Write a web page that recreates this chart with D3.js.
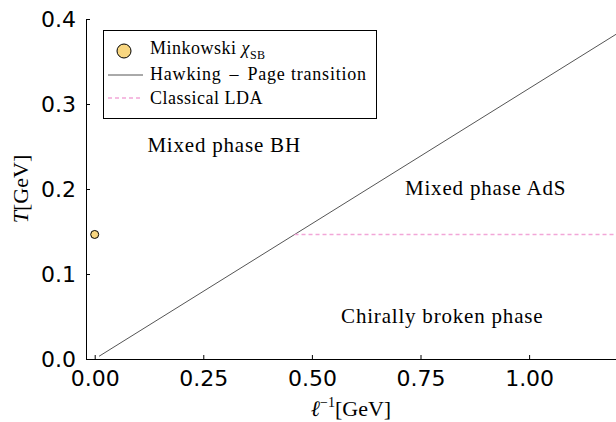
<!DOCTYPE html>
<html>
<head>
<meta charset="utf-8">
<script src="https://cdn.jsdelivr.net/npm/d3@7"></script>
<style>
  html, body { margin: 0; padding: 0; background: #fff; }
  svg { display: block; }
</style>
</head>
<body>
<svg id="chart" width="616" height="422"></svg>
<script>
// Phase diagram: temperature vs inverse size
const xTicks = [0.00, 0.25, 0.50, 0.75, 1.00];
const yTicks = [0.0, 0.1, 0.2, 0.3, 0.4];
const xDomain = [-0.02, 1.2];
const yDomain = [0, 0.4];

// Hawking–Page transition line T = ℓ^{-1}/π
const hpInv = [0.01, 1.2];
const hpT = [0.01 / Math.PI, 1.2 / Math.PI];

// Classical LDA transition temperature
const ldaInv = [0.46, 1.2];
const ldaT = [0.1465, 0.1465];

// Minkowski chiral symmetry breaking point
const minkInv = [0.0];
const minkT = [0.1465];

// Region labels
const regionNames = ["Mixed phase BH", "Mixed phase AdS", "Chirally broken phase"];
const regionInv = [0.298, 0.9, 0.8];
const regionT = [0.2435, 0.193, 0.0424];

const svg = d3.select("#chart");
const x = d3.scaleLinear().domain(xDomain).range([86, 616]);
const y = d3.scaleLinear().domain(yDomain).range([359, 19]);

const tickFont = "'DejaVu Sans', sans-serif";
const serif = "'Liberation Serif', 'DejaVu Serif', serif";

// Axes with inward ticks
const xAxis = d3.axisBottom(x).tickValues(xTicks).tickFormat(d3.format(".2f")).tickSizeInner(-4).tickSizeOuter(0).tickPadding(11);
const yAxis = d3.axisLeft(y).tickValues(yTicks).tickFormat(d3.format(".1f")).tickSizeInner(-4).tickSizeOuter(0).tickPadding(10);

const gx = svg.append("g").attr("transform", "translate(0,359)").call(xAxis);
const gy = svg.append("g").attr("transform", "translate(86,0)").call(yAxis);
[gx, gy].forEach(g => {
  g.select(".domain").attr("stroke", "#000").attr("stroke-width", 1);
  g.selectAll(".tick line").attr("stroke", "#000").attr("stroke-width", 1);
  g.selectAll(".tick text").attr("font-family", tickFont).attr("font-size", 22).attr("fill", "#000");
});
gx.selectAll(".tick text").attr("dy", "0.71em");
gy.selectAll(".tick text").attr("dy", "0.36em");

// Clip to the plotting area
svg.append("clipPath").attr("id", "plotclip")
  .append("rect").attr("x", 86).attr("y", 0).attr("width", 530).attr("height", 359);
const plot = svg.append("g").attr("clip-path", "url(#plotclip)");

const line = d3.line().x(d => x(d[0])).y(d => y(d[1]));

plot.append("path")
  .datum(hpInv.map((v, i) => [v, hpT[i]]))
  .attr("d", line).attr("fill", "none").attr("stroke", "#555").attr("stroke-width", 1);

plot.append("path")
  .datum(ldaInv.map((v, i) => [v, ldaT[i]]))
  .attr("d", line).attr("fill", "none").attr("stroke", "#f2a6d8")
  .attr("stroke-width", 1.3).attr("stroke-dasharray", "4,3");

plot.selectAll("circle.mink").data(minkInv.map((v, i) => [v, minkT[i]]))
  .join("circle").attr("class", "mink")
  .attr("cx", d => x(d[0])).attr("cy", d => y(d[1])).attr("r", 4)
  .attr("fill", "#f8d680").attr("stroke", "#000").attr("stroke-width", 1);

// Region labels
svg.selectAll("text.region").data(regionNames)
  .join("text").attr("class", "region")
  .attr("x", (d, i) => x(regionInv[i])).attr("y", (d, i) => y(regionT[i]))
  .attr("text-anchor", "middle").attr("font-family", serif).attr("font-size", 21)
  .attr("letter-spacing", 0.8)
  .text(d => d);

// Axis labels
const xl = svg.append("text").attr("x", 351).attr("y", 416).attr("text-anchor", "middle")
  .attr("font-family", serif).attr("font-size", 22);
xl.append("tspan").attr("font-style", "italic").text("ℓ");
xl.append("tspan").attr("font-size", 14).attr("dy", -9).text("−1");
xl.append("tspan").attr("dy", 9).text("[GeV]");

const yl = svg.append("text").attr("transform", "translate(28,189) rotate(-90)")
  .attr("text-anchor", "middle").attr("font-family", serif).attr("font-size", 22);
yl.append("tspan").attr("font-style", "italic").text("T");
yl.append("tspan").text("[GeV]");

// Legend
const lg = svg.append("g");
lg.append("rect").attr("x", 103.5).attr("y", 30.5).attr("width", 273).attr("height", 88)
  .attr("fill", "#fff").attr("stroke", "#000").attr("stroke-width", 1);
lg.append("circle").attr("cx", 124).attr("cy", 51).attr("r", 7)
  .attr("fill", "#f8d680").attr("stroke", "#000").attr("stroke-width", 1);
lg.append("line").attr("x1", 108).attr("x2", 143).attr("y1", 75).attr("y2", 75)
  .attr("stroke", "#555").attr("stroke-width", 1);
lg.append("line").attr("x1", 108).attr("x2", 143).attr("y1", 98).attr("y2", 98)
  .attr("stroke", "#f2a6d8").attr("stroke-width", 1.3).attr("stroke-dasharray", "4,3");

const legendText = (yy) => lg.append("text").attr("x", 150).attr("y", yy)
  .attr("font-family", serif).attr("font-size", 18).attr("letter-spacing", 0.5);
const t1 = legendText(54);
t1.append("tspan").text("Minkowski ");
t1.append("tspan").attr("font-style", "italic").text("χ");
t1.append("tspan").attr("font-size", 12).attr("dy", 5).text("SB");
const t2 = legendText(80).attr("letter-spacing", 0.8);
t2.append("tspan").text("Hawking");
t2.append("tspan").attr("dx", 8).text("–");
t2.append("tspan").attr("dx", 8).text("Page transition");
legendText(104).text("Classical LDA");
</script>
</body>
</html>
